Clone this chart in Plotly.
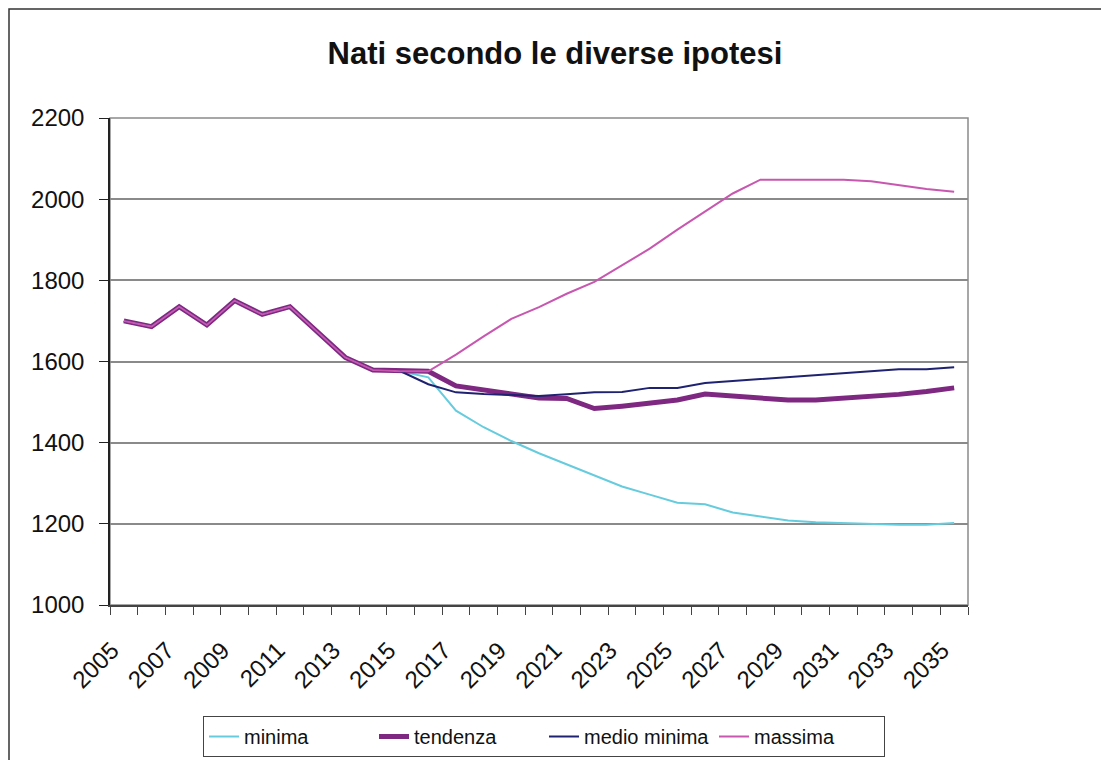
import plotly.graph_objects as go

years = [str(y) for y in range(2005, 2036)]

minima = [1700, 1686, 1735, 1690, 1750, 1716, 1735, 1672, 1610, 1579, 1576,
          1561, 1479, 1438, 1404, 1374, 1347, 1318, 1292, 1272, 1252,
          1248, 1228, 1218, 1208, 1204, 1202, 1199, 1198, 1198, 1202]

tendenza = [1700, 1686, 1735, 1690, 1750, 1716, 1735, 1672, 1610, 1579, 1576,
            1576, 1540, 1531, 1520, 1510, 1509, 1484, 1490, 1499, 1505,
            1520, 1515, 1510, 1505, 1505, 1509, 1514, 1519, 1526, 1535]

medio_minima = [1700, 1686, 1735, 1690, 1750, 1716, 1735, 1672, 1610, 1579, 1576,
                1544, 1524, 1520, 1518, 1515, 1519, 1524, 1525, 1535, 1535,
                1547, 1552, 1557, 1562, 1567, 1572, 1577, 1581, 1581, 1586]

massima = [1700, 1686, 1735, 1690, 1750, 1716, 1735, 1672, 1610, 1579, 1576,
           1576, 1617, 1662, 1705, 1734, 1767, 1796, 1837, 1878, 1925,
           1970, 2014, 2048, 2048, 2048, 2048, 2044, 2035, 2025, 2018]

tick_text = [y if i % 2 == 0 else "" for i, y in enumerate(years)]

FONT = "Liberation Sans, Arial, sans-serif"

fig = go.Figure()
fig.add_trace(go.Scatter(x=years, y=minima, name="minima", mode="lines",
                         line=dict(color="#66CCDD", width=2)))
fig.add_trace(go.Scatter(x=years, y=tendenza, name="tendenza", mode="lines",
                         line=dict(color="#7E2882", width=5)))
fig.add_trace(go.Scatter(x=years, y=medio_minima, name="medio minima", mode="lines",
                         line=dict(color="#1F2270", width=2)))
fig.add_trace(go.Scatter(x=years, y=massima, name="massima", mode="lines",
                         line=dict(color="#C857B0", width=2)))

fig.update_layout(
    width=1101, height=760,
    margin=dict(l=110, r=133, t=118, b=155, pad=0, autoexpand=False),
    paper_bgcolor="white", plot_bgcolor="white",
    font=dict(family=FONT, color="#111"),
    title=dict(text="<b>Nati secondo le diverse ipotesi</b>",
               font=dict(size=31, family=FONT, color="#111"),
               x=(555 - 110) / 858, xref="paper", xanchor="center",
               y=1 - 53 / 760, yref="container", yanchor="middle"),
    showlegend=True,
    legend=dict(orientation="h", x=(544 - 110) / 858, xanchor="center",
                y=(605 - 716) / 487, yanchor="top",
                font=dict(size=20, family=FONT, color="#111"),
                bordercolor="#444", borderwidth=1, bgcolor="white",
                entrywidth=125, entrywidthmode="pixels"),
    shapes=[
        dict(type="rect", xref="paper", yref="paper", x0=0, x1=1, y0=0, y1=1,
             line=dict(color="#8a8a8a", width=1.5), layer="below"),
        dict(type="rect", xref="paper", yref="paper",
             x0=(9 - 110) / 858, x1=1.3, y0=-0.5, y1=(605 - 9) / 487,
             line=dict(color="#333", width=1.5), layer="below"),
    ],
)

fig.update_xaxes(type="category", categoryorder="array", categoryarray=years,
                 range=[-0.5, len(years) - 0.5], automargin=False,
                 tickmode="array", tickvals=years, ticktext=tick_text,
                 tickson="boundaries", ticks="outside", ticklen=8,
                 tickcolor="#444", tickwidth=1.2, tickangle=-45,
                 tickfont=dict(size=24, family=FONT, color="#111"),
                 ticklabelstandoff=20, ticklabelshift=-12,
                 showline=True, linecolor="#444", linewidth=1.5,
                 showgrid=False, zeroline=False)

fig.update_yaxes(range=[1000, 2200], tickmode="linear", tick0=1000, dtick=200,
                 automargin=False,
                 ticks="outside", ticklen=9, tickcolor="#222", tickwidth=1.2,
                 tickfont=dict(size=24, family=FONT, color="#111"),
                 showline=True, linecolor="#222", linewidth=1.5,
                 showgrid=True, gridcolor="#8a8a8a", gridwidth=1.5,
                 zeroline=False, ticklabelstandoff=10)

fig.write_html("out.html")
